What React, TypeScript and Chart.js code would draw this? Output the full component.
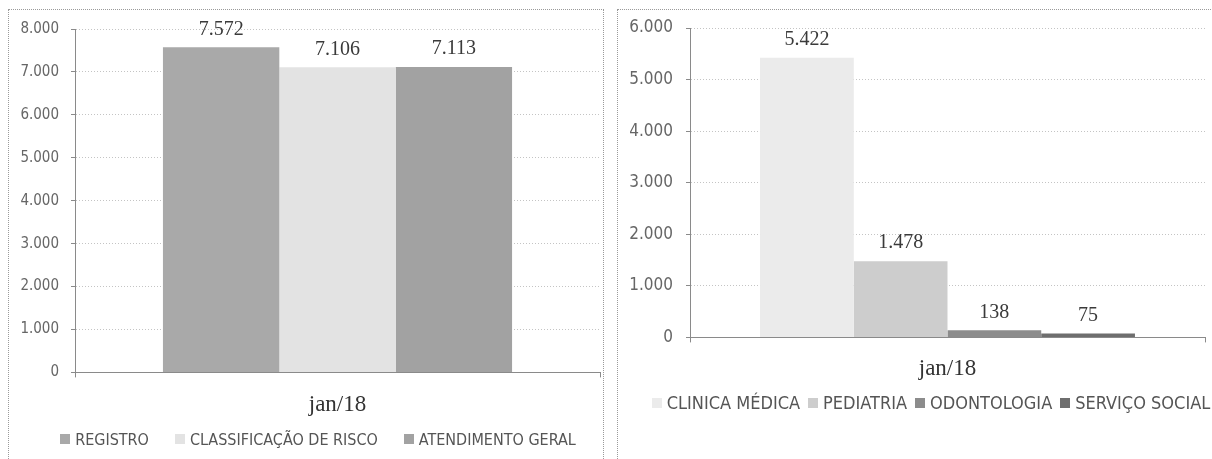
import React, { useEffect, useRef } from "react";
import { Chart, registerables } from "chart.js";

Chart.register(...registerables);

// ---- data ----
const leftCategories = ["jan/18"];
const leftSeries = ["REGISTRO", "CLASSIFICAÇÃO DE RISCO", "ATENDIMENTO GERAL"];
const leftValues = [7572, 7106, 7113];
const leftColors = ["#a9a9a9", "#e3e3e3", "#a2a2a2"];
const leftMax = 8000;
const leftStep = 1000;

const rightCategories = ["jan/18"];
const rightSeries = ["CLINICA MÉDICA", "PEDIATRIA", "ODONTOLOGIA", "SERVIÇO SOCIAL"];
const rightValues = [5422, 1478, 138, 75];
const rightColors = ["#ebebeb", "#cdcdcd", "#8c8c8c", "#6e6e6e"];
const rightMax = 6000;
const rightStep = 1000;

const SANS = "'Liberation Sans Narrow', 'DejaVu Sans Condensed', 'Open Sans', sans-serif";
const SERIF = "'Liberation Serif', 'DejaVu Serif', serif";

const fmt = (n: number) => String(n).replace(/\B(?=(\d{3})+(?!\d))/g, ".");

const valueLabels = {
  id: "valueLabels",
  afterDatasetsDraw(chart: any, _args: any, opts: any) {
    const ctx = chart.ctx;
    ctx.save();
    ctx.font = opts.font;
    ctx.fillStyle = opts.color;
    ctx.textAlign = "center";
    ctx.textBaseline = "middle";
    chart.data.datasets.forEach((ds: any, i: number) => {
      const meta = chart.getDatasetMeta(i);
      meta.data.forEach((el: any, j: number) => {
        ctx.fillText(fmt(ds.data[j]), el.x, el.y - opts.offset);
      });
    });
    ctx.restore();
  },
};

const bottomLegend = {
  id: "bottomLegend",
  afterDraw(chart: any, _args: any, o: any) {
    const ctx = chart.ctx;
    ctx.save();
    ctx.font = o.font;
    ctx.textAlign = "left";
    ctx.textBaseline = "middle";
    const items = chart.data.datasets.map((ds: any) => ({
      text: ds.label,
      color: ds.backgroundColor,
      w: ctx.measureText(ds.label).width,
    }));
    const total =
      items.reduce((s: number, it: any) => s + o.box + o.boxGap + it.w, 0) +
      o.gap * (items.length - 1);
    let x = o.centerX - total / 2;
    const y = chart.chartArea.bottom + o.offsetY;
    items.forEach((it: any) => {
      ctx.fillStyle = it.color;
      ctx.fillRect(Math.round(x), Math.round(y - o.box / 2), o.box, o.box);
      x += o.box + o.boxGap;
      ctx.fillStyle = o.color;
      ctx.fillText(it.text, x, y + 1);
      x += it.w + o.gap;
    });
    ctx.restore();
  },
};

type Spec = {
  categories: string[];
  series: string[];
  values: number[];
  colors: string[];
  max: number;
  step: number;
  catPct: number;
  yWidth: number;
  pad: { top: number; right: number; bottom: number; left: number };
  yFont: number;
  yPad: number;
  xPad: number;
  legend: { font: string; box: number; boxGap: number; gap: number; centerX: number; offsetY: number };
  labelOffset: number;
};

function makeConfig(s: Spec): any {
  return {
    type: "bar",
    data: {
      labels: s.categories,
      datasets: s.series.map((name, i) => ({
        label: name,
        data: [s.values[i]],
        backgroundColor: s.colors[i],
        borderWidth: 0,
        categoryPercentage: s.catPct,
        barPercentage: 1,
      })),
    },
    options: {
      animation: false,
      responsive: true,
      maintainAspectRatio: false,
      layout: { padding: s.pad },
      scales: {
        x: {
          grid: {
            display: true,
            drawOnChartArea: false,
            drawTicks: true,
            tickLength: 5,
            color: "#8a8a8a",
            offset: true,
          },
          border: { display: true, color: "#8a8a8a", width: 1 },
          ticks: {
            font: { family: SERIF, size: 23 },
            color: "#333",
            padding: s.xPad,
          },
        },
        y: {
          min: 0,
          max: s.max,
          afterFit: (axis: any) => {
            axis.width = s.yWidth;
            axis.paddingTop = 0;
            axis.paddingBottom = 0;
          },
          ticks: {
            stepSize: s.step,
            font: { family: SANS, size: s.yFont },
            color: "#666",
            padding: s.yPad,
            callback: (v: any) => fmt(Number(v)),
          },
          grid: {
            color: "#c4c4c4",
            tickColor: "#8a8a8a",
            tickLength: 4,
            lineWidth: 1,
          },
          border: { display: true, color: "#8a8a8a", width: 1, dash: [1, 2] },
        },
      },
      plugins: {
        legend: { display: false },
        tooltip: { enabled: false },
        valueLabels: {
          font: `20px ${SERIF}`,
          color: "#3a3a3a",
          offset: s.labelOffset,
        },
        bottomLegend: { ...s.legend, color: "#555" },
      },
    },
    plugins: [valueLabels, bottomLegend],
  };
}

function ChartBox({ spec }: { spec: Spec }) {
  const ref = useRef<HTMLCanvasElement | null>(null);
  useEffect(() => {
    if (!ref.current) return;
    const chart = new Chart(ref.current, makeConfig(spec));
    return () => chart.destroy();
  }, [spec]);
  return (
    <div style={{ position: "relative", width: "100%", height: "100%" }}>
      <canvas ref={ref} />
    </div>
  );
}

const leftSpec: Spec = {
  categories: leftCategories,
  series: leftSeries,
  values: leftValues,
  colors: leftColors,
  max: leftMax,
  step: leftStep,
  catPct: 0.665,
  yWidth: 66,
  pad: { top: 19, right: 3, bottom: 27, left: 0 },
  yFont: 15,
  yPad: 12,
  xPad: 14,
  legend: { font: `16px ${SANS}`, box: 10, boxGap: 5, gap: 26, centerX: 309, offsetY: 67 },
  labelOffset: 18,
};

const rightSpec: Spec = {
  categories: rightCategories,
  series: rightSeries,
  values: rightValues,
  colors: rightColors,
  max: rightMax,
  step: rightStep,
  catPct: 0.728,
  yWidth: 72,
  pad: { top: 18, right: 41, bottom: 64, left: 0 },
  yFont: 17,
  yPad: 13,
  xPad: 13,
  legend: { font: `18px ${SANS}`, box: 10, boxGap: 5, gap: 8, centerX: 313, offsetY: 66 },
  labelOffset: 18,
};

const panelBase: React.CSSProperties = {
  position: "absolute",
  boxSizing: "border-box",
  border: "1px dotted #9a9a9a",
  background: "#fff",
  height: 452,
  top: 9,
};

export default function App() {
  return (
    <div
      style={{
        position: "absolute",
        left: 0,
        top: 0,
        width: 1212,
        height: 459,
        overflow: "hidden",
        background: "#fff",
      }}
    >
      <div style={{ ...panelBase, left: 8, width: 596 }}>
        <ChartBox spec={leftSpec} />
      </div>
      <div style={{ ...panelBase, left: 617, width: 630 }}>
        <ChartBox spec={rightSpec} />
      </div>
    </div>
  );
}
